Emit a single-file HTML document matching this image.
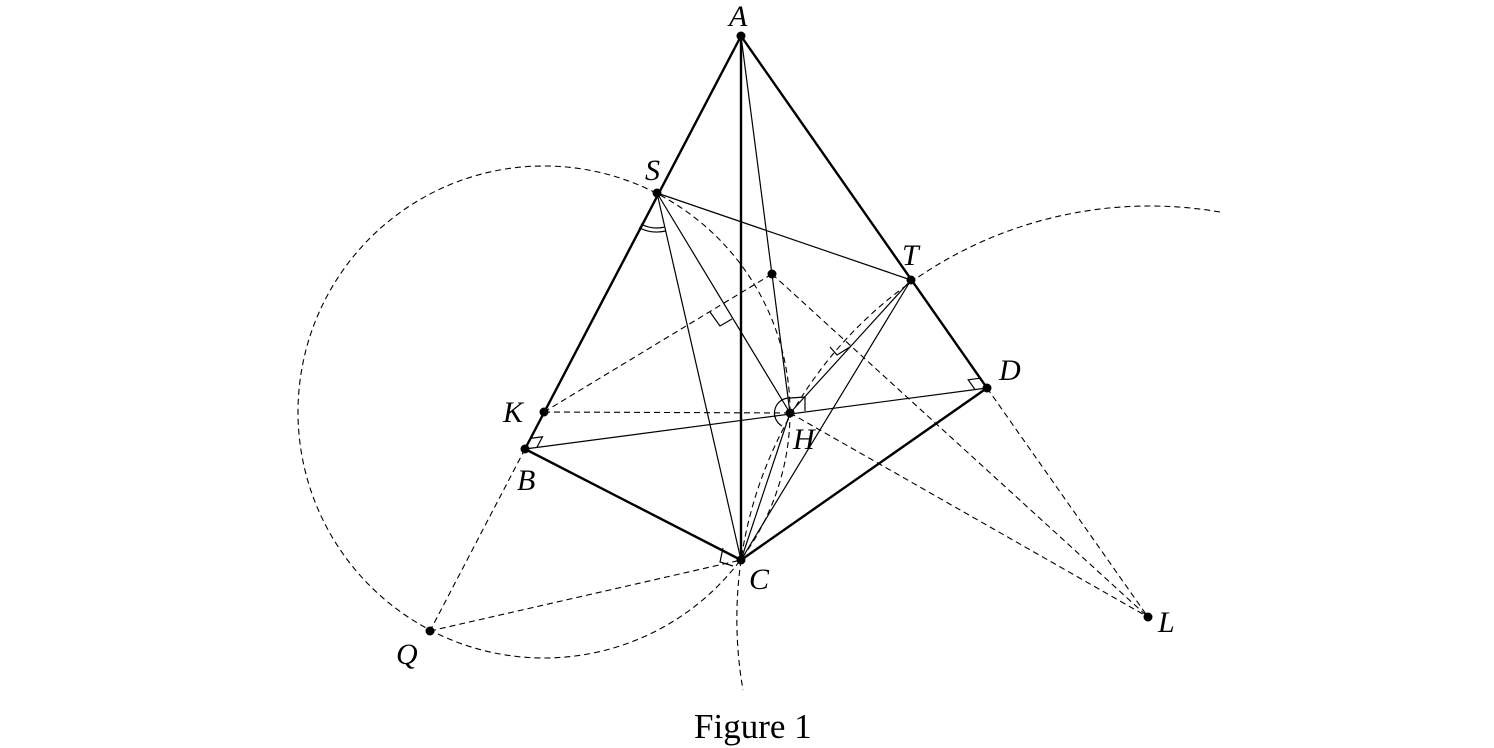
<!DOCTYPE html>
<html><head><meta charset="utf-8"><style>
html,body{margin:0;padding:0;background:#fff;}
svg{display:block;}
text{font-family:"Liberation Serif",serif;font-style:italic;font-size:30px;fill:#000;}
</style></head><body>
<svg width="1494" height="748" viewBox="0 0 1494 748" xmlns="http://www.w3.org/2000/svg">
<g fill="none" stroke="#000" stroke-width="1.1" stroke-dasharray="6,4">
<circle cx="544" cy="412" r="246"/>
<path d="M1220 212 A413 413 0 0 0 743 690"/>
<line x1="544" y1="412" x2="772" y2="274"/>
<line x1="544" y1="412" x2="790" y2="413"/>
<line x1="772" y1="274" x2="1148" y2="617"/>
<line x1="790" y1="413" x2="1148" y2="617"/>
<line x1="987" y1="388" x2="1148" y2="617"/>
<line x1="525" y1="449" x2="430" y2="631"/>
<line x1="430" y1="631" x2="741" y2="560"/>
</g>
<g fill="none" stroke="#000" stroke-width="1.2">
<line x1="657" y1="193" x2="911" y2="280"/>
<line x1="657" y1="193" x2="741" y2="560"/>
<line x1="657" y1="193" x2="790" y2="413"/>
<line x1="741" y1="36" x2="790" y2="413"/>
<line x1="525" y1="449" x2="987" y2="388"/>
<line x1="911" y1="280" x2="790" y2="413"/>
<line x1="911" y1="280" x2="741" y2="560"/>
<line x1="790" y1="413" x2="741" y2="560"/>
<path d="M640.8 224 A35 35 0 0 0 664.8 227.1"/>
<path d="M638.9 227.6 A39 39 0 0 0 665.7 231"/>
<path d="M790 398 A15 15 0 0 0 782 426"/>
<polyline points="790,398 805,397 805,411"/>
<polyline points="530.6,438.4 542.5,436.8 536.9,447.4"/>
<polyline points="980.1,378.2 968.2,379.8 975.1,389.6"/>
<polyline points="723,548 720,562 733,566"/>
<polyline points="710,312 720,326 732,319"/>
<polyline points="830,347 837,355 850,347"/>
</g>
<g fill="none" stroke="#000" stroke-width="2.4" stroke-linejoin="round">
<polyline points="525,449 741,36 987,388 741,560 525,449"/>
<line x1="741" y1="36" x2="741" y2="560"/>
</g>
<g fill="#000">
<circle cx="741" cy="36" r="4.5"/><circle cx="657" cy="193" r="4.5"/>
<circle cx="911" cy="280" r="4.5"/><circle cx="987" cy="388" r="4.5"/>
<circle cx="544" cy="412" r="4.5"/><circle cx="525" cy="449" r="4.5"/>
<circle cx="790" cy="413" r="4.5"/><circle cx="741" cy="560" r="4.5"/>
<circle cx="430" cy="631" r="4.5"/><circle cx="1148" cy="617" r="4.5"/>
<circle cx="772" cy="274" r="4.5"/>
</g>
<text x="729" y="26">A</text>
<text x="645" y="180">S</text>
<text x="902" y="265">T</text>
<text x="999" y="380">D</text>
<text x="503" y="422">K</text>
<text x="793" y="449">H</text>
<text x="517" y="490">B</text>
<text x="749" y="589">C</text>
<text x="396" y="664">Q</text>
<text x="1158" y="632">L</text>
<text x="694" y="738" style="font-style:normal;font-size:35px;">Figure 1</text>
</svg>
</body></html>
